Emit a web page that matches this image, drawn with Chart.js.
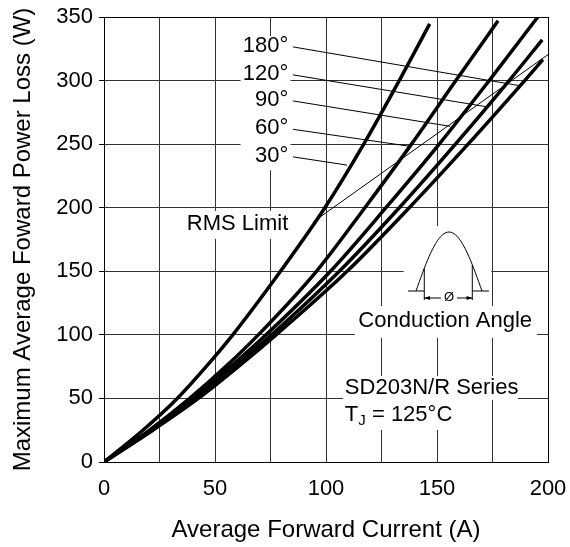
<!DOCTYPE html>
<html>
<head>
<meta charset="utf-8">
<script src="https://cdn.jsdelivr.net/npm/chart.js@4.4.1/dist/chart.umd.min.js"></script>
<style>
  html, body { margin: 0; padding: 0; background: #fff; }
  #wrap { width: 570px; height: 547px; }
</style>
</head>
<body>
<div id="wrap"><canvas id="loss" width="570" height="547"></canvas></div>
<script>
// values: power loss (W) levels and the current (A) where each curve crosses them
const power30 = [0, 25, 50, 75, 100, 150, 200, 250, 300, 344.6];
const current30 = [0, 17.5, 33, 46, 58, 79.5, 99.5, 117, 133, 146.7];
const power60 = [0, 25, 50, 75, 100, 150, 200, 250, 300, 347];
const current60 = [0, 20.5, 38.6, 54.8, 69.5, 95.7, 117.5, 138.5, 158.5, 177.5];
const power90 = [0, 25, 50, 75, 100, 150, 200, 250, 300, 350];
const current90 = [0, 21, 39.8, 57, 73, 102, 127, 151, 173.5, 195.4];
const power120 = [0, 25, 50, 75, 100, 150, 200, 250, 300, 332];
const current120 = [0, 21.5, 41.5, 59, 75.5, 106, 133, 158.3, 182.5, 197.4];
const power180 = [0, 25, 50, 75, 100, 150, 200, 250, 300, 316.5];
const current180 = [0, 22, 42.5, 60.5, 77.5, 109.5, 137.5, 164, 189.5, 197.7];

// RMS limit line
const rmsCurrent = [94.2, 200];
const rmsPower = [188.8, 320.4];

// leader lines from the angle labels to their curves (top to bottom)
const angleLabels = ['180°', '120°', '90°', '60°', '30°'];
const leaderStartCurrent = [85.1, 85.1, 85.1, 85.1, 85.1];
const leaderStartPower = [326.5, 304.5, 284, 261.7, 240];
const leaderEndCurrent = [187.2, 172, 156, 137, 109.5];
const leaderEndPower = [296, 279.5, 264, 248.5, 233.5];

const xGrid = [0, 25, 50, 75, 100, 125, 150, 175, 200];
const xTicks = [0, 50, 100, 150, 200];
const yTicks = [0, 50, 100, 150, 200, 250, 300, 350];

const FONT = '"Liberation Sans", Arial, sans-serif';

const toPoints = (xs, ys) => xs.map((v, i) => ({ x: v, y: ys[i] }));

const curve = (xs, ys) => ({
	data: toPoints(xs, ys),
	borderColor: "#000",
	borderWidth: 3.5,
	pointRadius: 0,
	fill: false,
	cubicInterpolationMode: "monotone",
});

const thin = (xs, ys) => ({
	data: toPoints(xs, ys),
	borderColor: "#000",
	borderWidth: 1,
	pointRadius: 0,
	fill: false,
	tension: 0,
});

const datasets = [
	curve(current30, power30),
	curve(current60, power60),
	curve(current90, power90),
	curve(current120, power120),
	curve(current180, power180),
	thin(rmsCurrent, rmsPower),
];
angleLabels.forEach((_, i) => {
	datasets.push(
		thin(
			[leaderStartCurrent[i], leaderEndCurrent[i]],
			[leaderStartPower[i], leaderEndPower[i]]
		)
	);
});

// white patches behind the text, in data units [x0, x1, y0, y1]
const boxes = [
	[61.5, 84, 229.5, 335],
	[39, 84, 175.5, 197.5],
	[135, 174.5, 122.7, 185.6],
	[113, 195, 97.5, 122.7],
	[107.7, 186.5, 48.8, 67.6],
	[107.7, 160, 25.2, 48.8],
];

const notes = {
	id: "notes",
	beforeDatasetsDraw(chart) {
		const { ctx, scales } = chart;
		const px = (v) => scales.x.getPixelForValue(v);
		const py = (v) => scales.y.getPixelForValue(v);
		ctx.save();
		ctx.fillStyle = "#fff";
		boxes.forEach((b) => {
			ctx.fillRect(px(b[0]), py(b[3]), px(b[1]) - px(b[0]), py(b[2]) - py(b[3]));
		});
		ctx.restore();
	},
	afterDatasetsDraw(chart) {
		const { ctx, scales } = chart;
		const px = (v) => scales.x.getPixelForValue(v);
		const py = (v) => scales.y.getPixelForValue(v);
		ctx.save();
		ctx.fillStyle = "#000";
		ctx.strokeStyle = "#000";
		ctx.font = "22px " + FONT;
		ctx.textBaseline = "middle";

		// angle labels
		ctx.textAlign = "right";
		angleLabels.forEach((t, i) => {
			ctx.fillText(t, px(83), py(leaderStartPower[i] + 1));
		});
		ctx.fillText("RMS Limit", px(83), py(187.5));

		ctx.textAlign = "center";
		ctx.fillText("Conduction Angle", px(153.7), py(111));

		ctx.textAlign = "left";
		ctx.fillText("SD203N/R Series", px(108.5), py(58));
		let tx = px(108.5);
		const ty = py(37);
		ctx.fillText("T", tx, ty);
		tx += ctx.measureText("T").width;
		ctx.font = "15px " + FONT;
		ctx.fillText("J", tx, ty + 6);
		tx += ctx.measureText("J").width;
		ctx.font = "22px " + FONT;
		ctx.fillText(" = 125°C", tx, ty);

		// conduction angle sketch
		const cx = px(155.4);
		const cy = py(134.5);
		ctx.lineWidth = 1;
		ctx.beginPath();
		for (let k = 0; k <= 40; k++) {
			const t = k / 40;
			const hx = cx - 33 + 66 * t;
			const hy = cy - 59 * Math.sin(Math.PI * t);
			if (k === 0) ctx.moveTo(hx, hy);
			else ctx.lineTo(hx, hy);
		}
		ctx.stroke();
		ctx.beginPath();
		ctx.moveTo(cx - 41, cy); ctx.lineTo(cx - 24.7, cy);
		ctx.moveTo(cx + 23.3, cy); ctx.lineTo(cx + 40, cy);
		ctx.moveTo(cx - 24.7, cy - 22.7); ctx.lineTo(cx - 24.7, cy + 9);
		ctx.moveTo(cx + 23.3, cy - 26.3); ctx.lineTo(cx + 23.3, cy + 9);
		ctx.moveTo(cx - 24.7, cy + 7); ctx.lineTo(cx - 8, cy + 7);
		ctx.moveTo(cx + 8, cy + 7); ctx.lineTo(cx + 23.3, cy + 7);
		ctx.stroke();
		ctx.beginPath();
		ctx.moveTo(cx - 24.7, cy + 7); ctx.lineTo(cx - 19, cy + 5); ctx.lineTo(cx - 19, cy + 9); ctx.closePath();
		ctx.moveTo(cx + 23.3, cy + 7); ctx.lineTo(cx + 17.6, cy + 5); ctx.lineTo(cx + 17.6, cy + 9); ctx.closePath();
		ctx.fill();
		ctx.font = "13px " + FONT;
		ctx.textAlign = "center";
		ctx.fillText("Ø", cx, cy + 6);
		ctx.restore();
	},
};

const gridColor = (edge) => (ctx) =>
	ctx.tick && ctx.tick.value === edge ? "#000" : "#333";

new Chart(document.getElementById("loss").getContext("2d"), {
	type: "line",
	data: { datasets },
	plugins: [notes],
	options: {
		responsive: false,
		animation: false,
		layout: { padding: { left: 0, right: 22, top: 17, bottom: 0 } },
		plugins: { legend: { display: false }, tooltip: { enabled: false } },
		scales: {
			x: {
				type: "linear",
				min: 0,
				max: 200,
				afterFit: (s) => {
					s.height = 85;
					s.paddingLeft = 0;
					s.paddingRight = 0;
				},
				afterBuildTicks: (s) => {
					s.ticks = xGrid.map((v) => ({ value: v }));
				},
				grid: { color: gridColor(200), lineWidth: 1, drawTicks: false },
				border: { color: "#000", width: 1 },
				ticks: {
					padding: 14,
					color: "#000",
					font: { family: FONT, size: 22 },
					callback: (v) => (xTicks.includes(v) ? String(v) : ""),
				},
				title: {
					display: true,
					text: "Average Forward Current (A)",
					color: "#000",
					font: { family: FONT, size: 24 },
					padding: { top: 0, bottom: 2 },
				},
			},
			y: {
				type: "linear",
				min: 0,
				max: 350,
				afterFit: (s) => {
					s.width = 104;
					s.paddingTop = 0;
					s.paddingBottom = 0;
				},
				afterBuildTicks: (s) => {
					s.ticks = yTicks.map((v) => ({ value: v }));
				},
				grid: { color: gridColor(350), lineWidth: 1, tickLength: 5, tickColor: "#000" },
				border: { color: "#000", width: 1 },
				ticks: {
					padding: 6,
					color: "#000",
					font: { family: FONT, size: 22 },
				},
				title: {
					display: true,
					text: "Maximum Average Foward Power Loss (W)",
					color: "#000",
					font: { family: FONT, size: 24 },
					padding: { top: 9, bottom: 0 },
				},
			},
		},
	},
});
</script>
</body>
</html>
